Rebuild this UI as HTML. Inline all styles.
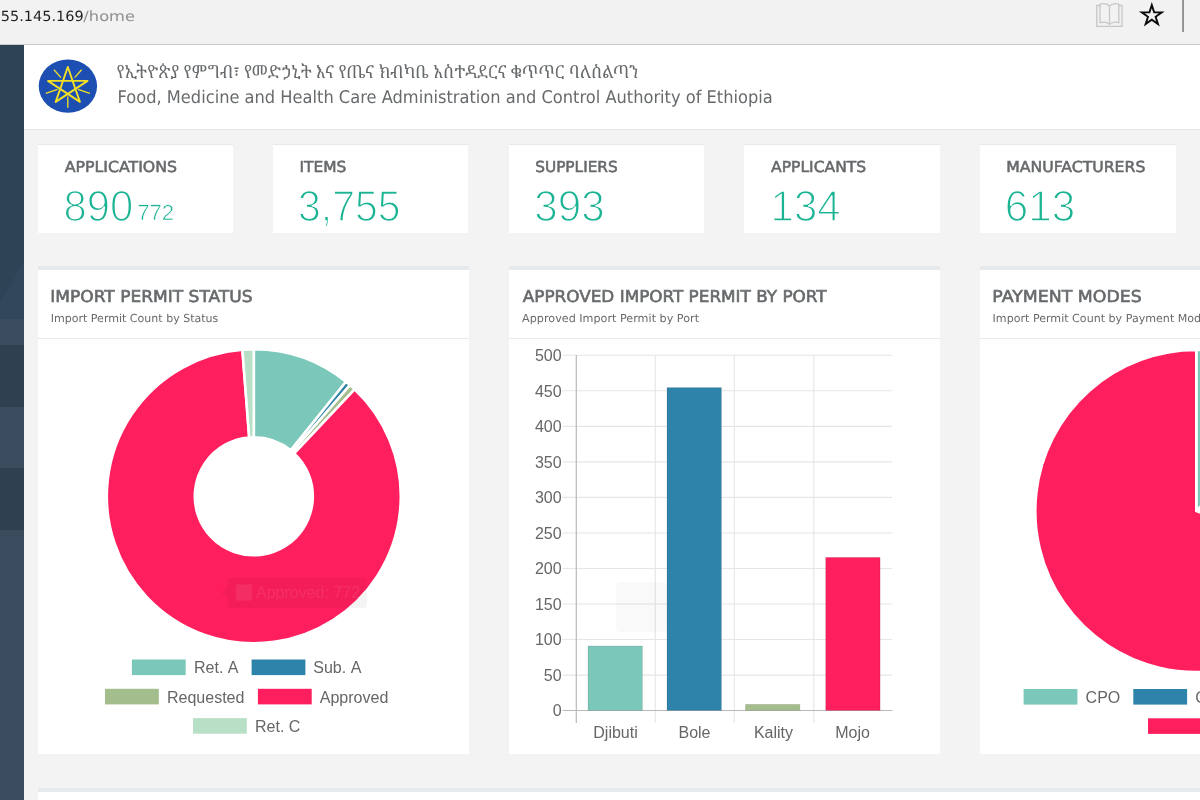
<!DOCTYPE html>
<html lang="en">
<head>
<meta charset="utf-8">
<title>Food, Medicine and Health Care Administration and Control Authority of Ethiopia</title>
<style>
*{box-sizing:border-box;margin:0;padding:0}
html,body{width:1200px;height:800px;overflow:hidden;background:#f3f3f4;
  font-family:"Liberation Sans","DejaVu Sans",sans-serif;color:#676a6c}
.abs{position:absolute}
#stage{position:relative;width:1200px;height:800px;overflow:hidden;background:#f3f3f4}
/* browser address bar */
#addr{left:0;top:0;width:1200px;height:45px;background:#f2f2f2;border-bottom:1px solid #c9c9c9}
/* sidebar */
#side{left:0;top:45px;width:24px;height:755px;background:#2f4050}
#side b{position:absolute;left:0;top:0;width:24px;height:274px;background:#2f4356;display:block}
#side i{position:absolute;left:0;width:24px;background:#3a4c5d;display:block}
/* header */
#head{left:24px;top:45px;width:1176px;height:85px;background:#fff;border-bottom:1.5px solid #e4e7ea}
/* stat cards */
.card{top:144px;width:195.5px;height:89px;background:#fff;border-top:1.4px solid #e7eaec}
svg text.dv{font-family:"DejaVu Sans","Liberation Sans",sans-serif;font-kerning:auto}
svg text.am{font-family:"Liberation Sans","Noto Serif Ethiopic","Noto Sans Ethiopic","DejaVu Sans",sans-serif}
svg text.lb{font-family:"Liberation Sans","DejaVu Sans",sans-serif}
/* panels */
.panel{top:266px;width:431px;height:488px;background:#fff;border-top:4px solid #e7eaec}
.panel hr{position:absolute;left:0;top:68px;width:100%;height:1px;border:0;background:#e7eaec}
svg text{font-family:"Liberation Sans","DejaVu Sans",sans-serif;fill:#666;font-kerning:none}
#next{left:37.5px;top:787.6px;width:1200px;height:20px;background:#fff;border-top:4px solid #e7eaec}
</style>
</head>
<body>
<div id="stage">

<!-- address bar -->
<div id="addr" class="abs">
    <svg class="abs" style="left:1090px;top:0" width="110" height="44" viewBox="1090 0 110 44">
    <g fill="none" stroke="#c6c6c6" stroke-width="1.3">
      <path d="M1100 5.5H1096.8V26.3H1122V5.5H1118.8"/>
      <path d="M1109.5 6C1107 3.6 1103 3.4 1100 4.2V22.6C1103 21.8 1107 22 1109.5 24.4C1112 22 1116 21.8 1118.8 22.6V4.2C1116 3.4 1112 3.6 1109.5 6Z"/>
      <path d="M1109.5 6V24.4"/>
    </g>
    <path d="M1151.80 5.10L1154.16 12.36L1161.79 12.36L1155.61 16.84L1157.97 24.09L1151.80 19.61L1145.63 24.09L1147.99 16.84L1141.81 12.36L1149.44 12.36Z" fill="none" stroke="#0a0a0a" stroke-width="1.9" stroke-linejoin="miter"/>
    <rect x="1182.3" y="0" width="1.5" height="32" fill="#7a7a7a"/>
  </svg>
</div>

<!-- sidebar -->
<div id="side" class="abs">
  <b></b>
  <svg class="abs" style="left:0;top:0" width="24" height="274" viewBox="0 45 24 274"><path d="M24 262L0 302V319H24Z" fill="#31475b"/></svg>
  <i style="top:274px;height:26px"></i>
  <i style="top:362px;height:61px"></i>
  <i style="top:485px;height:270px"></i>
</div>

<!-- header -->
<div id="head" class="abs"></div>
<svg class="abs" style="left:36px;top:56px" width="64" height="60" viewBox="36 56 64 60">
  <ellipse cx="67.9" cy="86.1" rx="29.2" ry="26.6" fill="#1d4fb3"/>
  <g fill="none" stroke="#f3df23" stroke-width="1.9" stroke-linejoin="miter" stroke-linecap="butt">
    <path d="M67.8 67L79.9 101.9L48 80.9H87.6L55.7 101.9Z" stroke-linejoin="round"/>
    <g stroke-width="1.3">
      <path d="M54 69.7L61 77.6M81.6 69.7L74.6 77.6M45.8 93.3L57.6 89.4M89.8 93.3L78 89.4M67.8 96.4V107.8"/>
    </g>
  </g>
</svg>

<!-- stat cards -->
<div class="abs card" style="left:37.5px"></div>
<div class="abs card" style="left:272.5px"></div>
<div class="abs card" style="left:508.5px"></div>
<div class="abs card" style="left:744px"></div>
<div class="abs card" style="left:980px"></div>

<!-- panel 1 : doughnut -->
<div class="abs panel" id="p1" style="left:37.5px">
  <hr>
</div>

<!-- panel 2 : bar -->
<div class="abs panel" id="p2" style="left:508.5px">
  <hr>
</div>

<!-- panel 3 : pie -->
<div class="abs panel" id="p3" style="left:980px">
  <hr>
</div>

<svg class="abs" id="charts" style="left:0;top:0" width="1200" height="800" viewBox="0 0 1200 800">
<g stroke="#fff" stroke-width="2.6" stroke-linejoin="round">
<path d="M253.80 349.30A147 147 0 0 1 345.97 381.79L290.79 450.34A59 59 0 0 0 253.80 437.30Z" fill="#7bc8ba"/>
<path d="M345.97 381.79A147 147 0 0 1 349.96 385.11L292.39 451.67A59 59 0 0 0 290.79 450.34Z" fill="#2d83a9"/>
<path d="M349.96 385.11A147 147 0 0 1 354.58 389.28L294.25 453.35A59 59 0 0 0 292.39 451.67Z" fill="#a3be8c"/>
<path d="M354.58 389.28A147 147 0 1 1 242.40 349.74L249.22 437.48A59 59 0 1 0 294.25 453.35Z" fill="#ff1f5e"/>
<path d="M242.40 349.74A147 147 0 0 1 253.80 349.30L253.80 437.30A59 59 0 0 0 249.22 437.48Z" fill="#b8e0c6"/>
</g>
<g opacity=".045"><path d="M231 577.5h132.4a3.5 3.5 0 0 1 3.5 3.5v23.5a3.5 3.5 0 0 1 -3.5 3.5H231a3.5 3.5 0 0 1 -3.5 -3.5V598l-6 -5.5l6 -5.5V581a3.5 3.5 0 0 1 3.5 -3.5Z" fill="#000"/></g><g opacity=".075"><rect x="235.8" y="584.5" width="16" height="16" fill="#fff"/><text x="256" y="598.2" font-size="16" style="fill:#fff">Approved: 772</text></g>
<rect x="131.9" y="659.5" width="53.8" height="15.6" fill="#7bc8ba"/><text x="194" y="673.4" font-size="16">Ret. A</text>
<rect x="251.6" y="659.5" width="53.8" height="15.6" fill="#2d83a9"/><text x="313.3" y="673.4" font-size="16">Sub. A</text>
<rect x="105" y="688.8" width="53.8" height="15.6" fill="#a3be8c"/><text x="167" y="702.7" font-size="16">Requested</text>
<rect x="257.9" y="688.8" width="53.8" height="15.6" fill="#ff1f5e"/><text x="319.8" y="702.7" font-size="16">Approved</text>
<rect x="193" y="718.1" width="53.8" height="15.6" fill="#b8e0c6"/><text x="255" y="732.0" font-size="16">Ret. C</text>
<g stroke="#e6e6e6" stroke-width="1.1">
<path d="M562.5 355.3H892"/><path d="M562.5 390.8H892"/><path d="M562.5 426.4H892"/><path d="M562.5 461.9H892"/><path d="M562.5 497.4H892"/><path d="M562.5 533.0H892"/><path d="M562.5 568.5H892"/><path d="M562.5 604.0H892"/><path d="M562.5 639.5H892"/><path d="M562.5 675.1H892"/>
<path d="M655.3 355.3V723"/><path d="M734.3 355.3V723"/><path d="M813.8 355.3V723"/>
</g>
<path d="M562.5 710.5H892.3M576.3 355V723" stroke="#b9b9b9" stroke-width="1.2" fill="none"/>
<text x="561.6" y="361.0" font-size="16" text-anchor="end">500</text><text x="561.6" y="396.5" font-size="16" text-anchor="end">450</text><text x="561.6" y="432.1" font-size="16" text-anchor="end">400</text><text x="561.6" y="467.6" font-size="16" text-anchor="end">350</text><text x="561.6" y="503.1" font-size="16" text-anchor="end">300</text><text x="561.6" y="538.7" font-size="16" text-anchor="end">250</text><text x="561.6" y="574.2" font-size="16" text-anchor="end">200</text><text x="561.6" y="609.7" font-size="16" text-anchor="end">150</text><text x="561.6" y="645.2" font-size="16" text-anchor="end">100</text><text x="561.6" y="680.8" font-size="16" text-anchor="end">50</text><text x="561.6" y="716.3" font-size="16" text-anchor="end">0</text>
<g stroke="#000" stroke-opacity=".1" stroke-width="1"><rect x="588" y="646" width="54.4" height="64.4" fill="#7bc8ba"/><rect x="667" y="387.6" width="54.4" height="322.8" fill="#2d83a9"/><rect x="745.5" y="704.4" width="54.4" height="6.0" fill="#a3be8c"/><rect x="825.7" y="557.4" width="54.4" height="153.0" fill="#ff1f5e"/></g>
<text x="615.5" y="737.6" font-size="16" text-anchor="middle">Djibuti</text><text x="694.5" y="737.6" font-size="16" text-anchor="middle">Bole</text><text x="773.5" y="737.6" font-size="16" text-anchor="middle">Kality</text><text x="852.5" y="737.6" font-size="16" text-anchor="middle">Mojo</text>
<rect x="616" y="582" width="51" height="50" rx="4" fill="#000" opacity=".025"/>
<g stroke="#fff" stroke-width="2.6" stroke-linejoin="round">
<path d="M1196.30 350.00A161 161 0 0 1 1310.14 397.16L1196.3 511Z" fill="#7bc8ba"/>
<path d="M1310.14 397.16A161 161 0 0 1 1356.69 496.97L1196.3 511Z" fill="#2d83a9"/>
<path d="M1356.69 496.97A161 161 0 0 1 1347.59 566.07L1196.3 511Z" fill="#a3be8c"/>
<path d="M1347.59 566.07A161 161 0 1 1 1196.30 350.00L1196.3 511Z" fill="#ff1f5e"/>
</g>
<rect x="1023.6" y="689" width="53.8" height="15.6" fill="#7bc8ba"/><text x="1085.6" y="702.9" font-size="16">CPO</text>
<rect x="1133.3" y="689" width="53.8" height="15.6" fill="#2d83a9"/><text x="1195.3" y="702.9" font-size="16">CAD</text>
<rect x="1243" y="689" width="53.8" height="15.6" fill="#a3be8c"/><text x="1305" y="702.9" font-size="16">TT</text>
<rect x="1148" y="718.3" width="53.8" height="15.6" fill="#ff1f5e"/><text x="1210" y="732.2" font-size="16">LC</text>
</svg>
<svg class="abs" id="texts" style="left:0;top:0;text-rendering:geometricPrecision" width="1200" height="800" viewBox="0 0 1200 800">
<text class="am" id="t_am" x="116.68" y="78.2" font-size="18" textLength="521.81" lengthAdjust="spacingAndGlyphs" style="fill:#676a6c;font-kerning:auto">የኢትዮጵያ የምግብ፣ የመድኃኒት እና የጤና ክብካቤ አስተዳደርና ቁጥጥር ባለስልጣን</text>
<text class="dv" id="t_url" x="0.85" y="20.5" font-size="14" textLength="82.82" lengthAdjust="spacingAndGlyphs" style="fill:#1f1f1f">55.145.169</text>
<text class="dv" id="t_home" x="83.39" y="20.5" font-size="14" textLength="51.55" lengthAdjust="spacingAndGlyphs" style="fill:#8f8f8f">/home</text>
<text class="dv" id="t_en" x="117.55" y="102.6" font-size="17.5" textLength="655.23" lengthAdjust="spacingAndGlyphs" style="fill:#676a6c">Food, Medicine and Health Care Administration and Control Authority of Ethiopia</text>
<text class="dv" id="t_l1" x="64.68" y="172.0" font-size="15.2" textLength="112.35" lengthAdjust="spacingAndGlyphs" style="fill:#676a6c;stroke:#676a6c;stroke-width:.55">APPLICATIONS</text>
<text class="dv" id="t_l2" x="299.42" y="172.0" font-size="15.2" textLength="46.89" lengthAdjust="spacingAndGlyphs" style="fill:#676a6c;stroke:#676a6c;stroke-width:.55">ITEMS</text>
<text class="dv" id="t_l3" x="535.19" y="172.0" font-size="15.2" textLength="82.54" lengthAdjust="spacingAndGlyphs" style="fill:#676a6c;stroke:#676a6c;stroke-width:.55">SUPPLIERS</text>
<text class="dv" id="t_l4" x="771.08" y="172.0" font-size="15.2" textLength="95.01" lengthAdjust="spacingAndGlyphs" style="fill:#676a6c;stroke:#676a6c;stroke-width:.55">APPLICANTS</text>
<text class="dv" id="t_l5" x="1006.22" y="172.0" font-size="15.2" textLength="139.13" lengthAdjust="spacingAndGlyphs" style="fill:#676a6c;stroke:#676a6c;stroke-width:.55">MANUFACTURERS</text>
<text class="lb" id="t_n1" x="63.54" y="220.8" font-size="43.5" textLength="69.78" lengthAdjust="spacingAndGlyphs" style="fill:#1ab394;stroke:#fff;stroke-width:1.4">890</text>
<text class="lb" id="t_n1s" x="137.25" y="220" font-size="22" textLength="36.95" lengthAdjust="spacingAndGlyphs" style="fill:#1ab394;stroke:#fff;stroke-width:.52">772</text>
<text class="lb" id="t_n2" x="297.99" y="220.8" font-size="43.5" textLength="102.48" lengthAdjust="spacingAndGlyphs" style="fill:#1ab394;stroke:#fff;stroke-width:1.4">3,755</text>
<text class="lb" id="t_n3" x="534.31" y="220.8" font-size="43.5" textLength="70.46" lengthAdjust="spacingAndGlyphs" style="fill:#1ab394;stroke:#fff;stroke-width:1.4">393</text>
<text class="lb" id="t_n4" x="770.54" y="220.8" font-size="43.5" textLength="70.20" lengthAdjust="spacingAndGlyphs" style="fill:#1ab394;stroke:#fff;stroke-width:1.4">134</text>
<text class="lb" id="t_n5" x="1004.76" y="220.8" font-size="43.5" textLength="70.43" lengthAdjust="spacingAndGlyphs" style="fill:#1ab394;stroke:#fff;stroke-width:1.4">613</text>
<text class="dv" id="t_h1" x="50.31" y="302.1" font-size="16.3" textLength="202.21" lengthAdjust="spacingAndGlyphs" style="fill:#676a6c;stroke:#676a6c;stroke-width:.6">IMPORT PERMIT STATUS</text>
<text class="dv" id="t_h2" x="522.79" y="302.1" font-size="16.3" textLength="303.80" lengthAdjust="spacingAndGlyphs" style="fill:#676a6c;stroke:#676a6c;stroke-width:.6">APPROVED IMPORT PERMIT BY PORT</text>
<text class="dv" id="t_h3" x="992.38" y="302.1" font-size="16.3" textLength="149.30" lengthAdjust="spacingAndGlyphs" style="fill:#676a6c;stroke:#676a6c;stroke-width:.6">PAYMENT MODES</text>
<text class="dv" id="t_s1" x="50.71" y="321.5" font-size="11" textLength="167.65" lengthAdjust="spacingAndGlyphs" style="fill:#676a6c">Import Permit Count by Status</text>
<text class="dv" id="t_s2" x="522.10" y="321.5" font-size="11" textLength="176.94" lengthAdjust="spacingAndGlyphs" style="fill:#676a6c">Approved Import Permit by Port</text>
<text class="dv" id="t_s3" x="992.59" y="321.5" font-size="11" textLength="221.16" lengthAdjust="spacingAndGlyphs" style="fill:#676a6c">Import Permit Count by Payment Modes</text>
</svg>
<div id="next" class="abs"></div>
</div>
</body>
</html>
